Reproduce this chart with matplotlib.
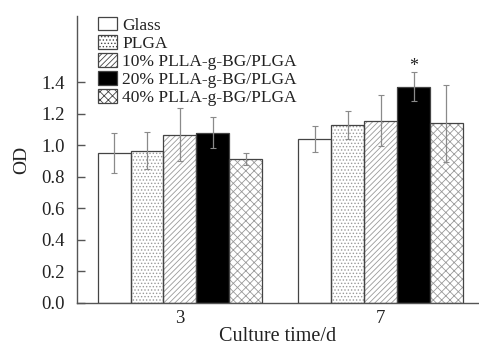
import numpy as np
import matplotlib
matplotlib.use('Agg')
import matplotlib.pyplot as plt
from matplotlib.patches import Patch

plt.rcParams['font.family'] = ['Liberation Serif', 'DejaVu Serif']
plt.rcParams['hatch.linewidth'] = 0.6

# Data
days = ['3', '7']
series = ['Glass', 'PLGA', '10% PLLA-g-BG/PLGA', '20% PLLA-g-BG/PLGA', '40% PLLA-g-BG/PLGA']
means = [
    [0.95, 1.04],   # Glass
    [0.965, 1.13],  # PLGA
    [1.067, 1.157], # 10%
    [1.08, 1.37],   # 20%
    [0.914, 1.14],  # 40%
]
errors = [
    [0.127, 0.085],
    [0.118, 0.09],
    [0.167, 0.16],
    [0.10, 0.092],
    [0.04, 0.245],
]
star_y = 1.50

faces = ['white', 'white', 'white', 'black', 'white']
hatches = [None, '.....', '//////', None, 'xxxx']
hatch_col = '#999999'
edge_col = '#444444'
text_col = '#222222'

fig = plt.figure(figsize=(4.79, 3.47), dpi=100)
ax = fig.add_axes([0.161, 0.127, 0.839, 0.827])

x = np.arange(len(days))
w = 0.164
for i, name in enumerate(series):
    pos = x + (i - 2) * w
    # hatch layer
    ax.bar(pos, means[i], w, color=faces[i], hatch=hatches[i],
           edgecolor=hatch_col, linewidth=0, zorder=2)
    # outline layer
    ax.bar(pos, means[i], w, color='none', edgecolor=edge_col,
           linewidth=0.9, zorder=3)
    ax.errorbar(pos, means[i], yerr=errors[i], fmt='none', ecolor='#8a8a8a',
                elinewidth=0.9, capsize=2, capthick=0.8, zorder=4)

ax.text(x[1] + w, star_y, '*', ha='center', va='center', fontsize=13, color=text_col)

legend_handles = [Patch(facecolor=faces[i], hatch=hatches[i], edgecolor=edge_col,
                        linewidth=0.9) for i in range(len(series))]
leg = ax.legend(legend_handles, series, loc='upper left', bbox_to_anchor=(0.035, 1.02),
                frameon=False, fontsize=12.5, handlelength=1.1, handleheight=0.8,
                handletextpad=0.3, labelspacing=0.08, borderaxespad=0.0)
for t in leg.get_texts():
    t.set_color(text_col)

ax.set_xlim(-0.512, 1.49)
ax.set_ylim(0, 1.82)
ax.set_yticks([0.0, 0.2, 0.4, 0.6, 0.8, 1.0, 1.2, 1.4])
ax.set_yticklabels(['0.0', '0.2', '0.4', '0.6', '0.8', '1.0', '1.2', '1.4'])
ax.set_xticks(x)
ax.set_xticklabels(days)

ax.spines['top'].set_visible(False)
ax.spines['right'].set_visible(False)
for s in ['left', 'bottom']:
    ax.spines[s].set_color('#555555')
    ax.spines[s].set_linewidth(1.0)
ax.tick_params(axis='both', direction='in', length=6, width=1.0, color='#555555',
               labelsize=13.5, labelcolor=text_col)
ax.tick_params(axis='y', pad=9)
ax.tick_params(axis='x', pad=5)

ax.set_xlabel('Culture time/d', fontsize=14.5, color=text_col, labelpad=0)
ax.set_ylabel('OD', fontsize=14, color=text_col, labelpad=8)

fig.savefig('out.png', dpi=100)
